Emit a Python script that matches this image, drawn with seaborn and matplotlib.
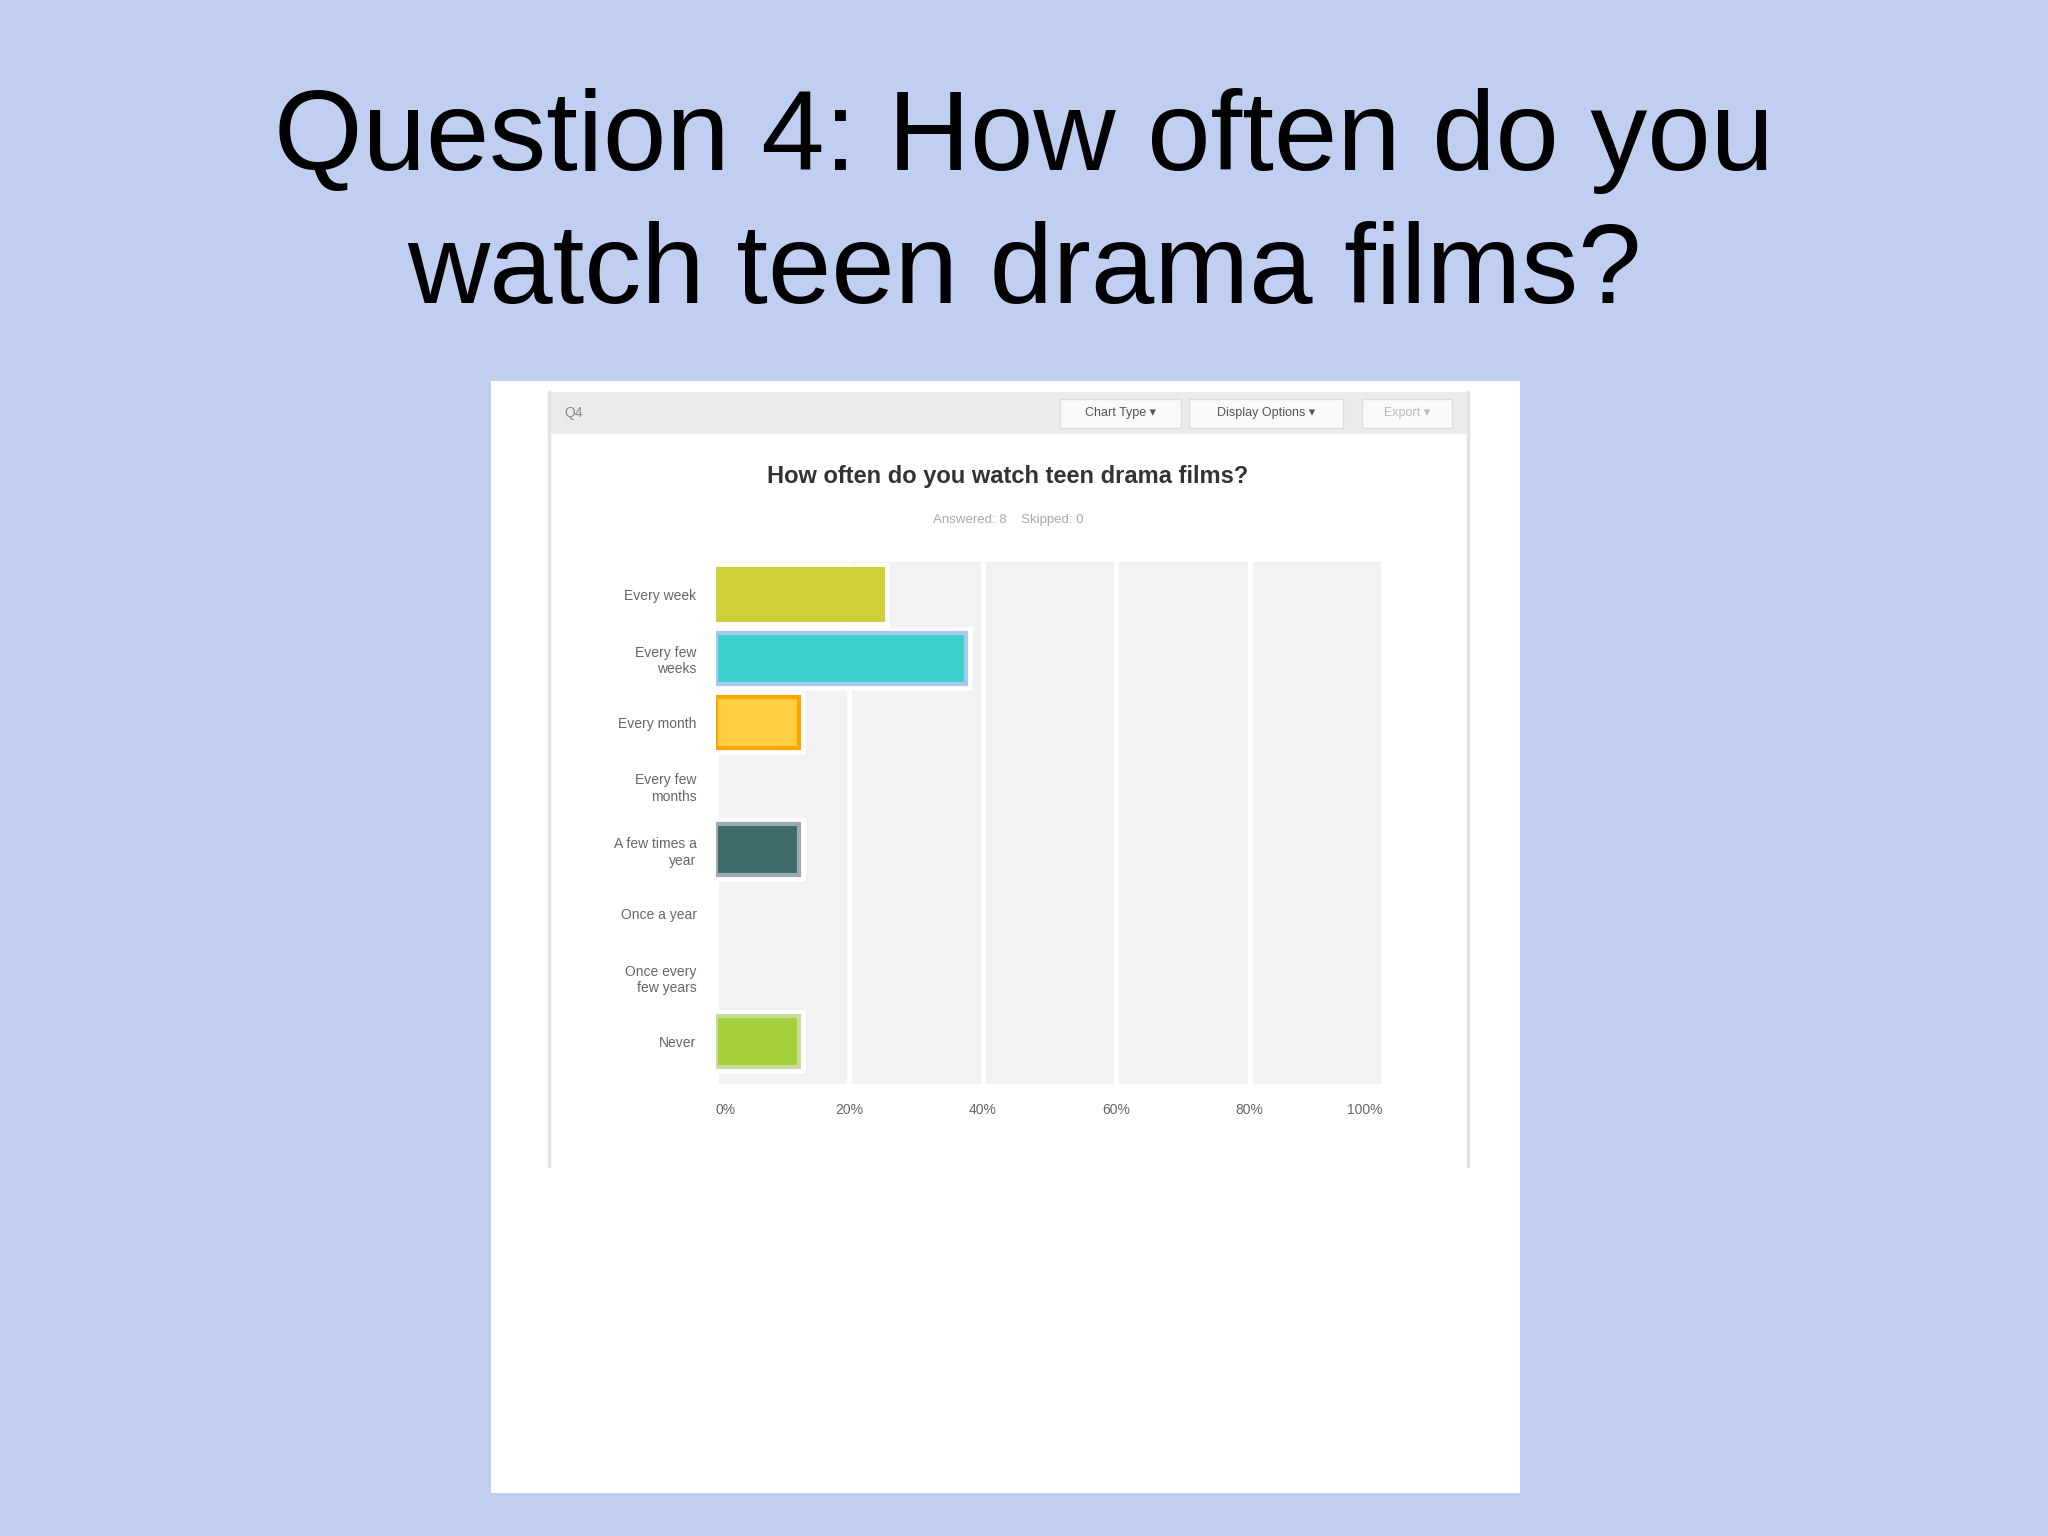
import matplotlib.pyplot as plt
import matplotlib.patheffects as pe
from matplotlib.patches import Rectangle
from matplotlib.lines import Line2D
import pandas as pd
import seaborn as sns

# survey answers and share of respondents (%)
answers = ['Every week', 'Every few weeks', 'Every month', 'Every few months',
           'A few times a year', 'Once a year', 'Once every few years', 'Never']
answer_labels = ['Every week', 'Every few\nweeks', 'Every month', 'Every few\nmonths',
                 'A few times a\nyear', 'Once a year', 'Once every\nfew years', 'Never']
percent = [25, 37.5, 12.5, 0, 12.5, 0, 0, 12.5]
bar_colors = ['#CFCF3A', '#3CD0CC', '#FFCF42', '#8FBC8F', '#3E6B6B', '#999999', '#999999', '#A4D03A']
edge_colors = ['#CFCF3A', '#A8C8F0', '#FFA500', '#8FBC8F', '#A0A8B0', '#999999', '#999999', '#C8DCA0']
x_ticks = [0, 20, 40, 60, 80, 100]
x_tick_labels = ['0%', '20%', '40%', '60%', '80%', '100%']

slide_title = ['Question 4: How often do you', 'watch teen drama films?']
chart_title = 'How often do you watch teen drama films?'
chart_subtitle = 'Answered: 8    Skipped: 0'

W, H = 2048, 1536


def box(x0, y0, x1, y1):
    # pixel box (top-left origin) -> figure fraction [left, bottom, width, height]
    return [x0 / W, 1 - y1 / H, (x1 - x0) / W, (y1 - y0) / H]


def rect(fig, x0, y0, x1, y1, **kw):
    l, b, w, h = box(x0, y0, x1, y1)
    fig.add_artist(Rectangle((l, b), w, h, transform=fig.transFigure, **kw))


sns.set_theme(style='white')
plt.rcParams['font.family'] = ['Liberation Sans', 'DejaVu Sans']

fig = plt.figure(figsize=(20.48, 15.36), dpi=100)
fig.patch.set_facecolor('#C0CEF2')

# slide title
fig.text(0.5, 1 - 170 / H, slide_title[0], ha='center', va='baseline', fontsize=82, color='black')
fig.text(0.5, 1 - 303 / H, slide_title[1], ha='center', va='baseline', fontsize=82, color='black')

# white screenshot panel
rect(fig, 491, 381, 1520, 1493, facecolor='white', edgecolor='none', zorder=0)

# survey widget frame and header
rect(fig, 549, 392, 1469, 434, facecolor='#EBEBEB', edgecolor='none', zorder=1)
for x in (549, 1468):
    fig.add_artist(Line2D([x / W, x / W], [1 - 392 / H, 1 - 1166 / H], transform=fig.transFigure,
                          color='#E2E2E2', lw=2.5, zorder=1))
fig.text(564 / W, 1 - 413 / H, 'Q4', ha='left', va='center', fontsize=10, color='#888888')
buttons = [('Chart Type \u25be', 1060, 1181, '#555555'),
           ('Display Options \u25be', 1189, 1343, '#555555'),
           ('Export \u25be', 1362, 1452, '#BBBBBB')]
for label, x0, x1, col in buttons:
    rect(fig, x0, 399, x1, 428, facecolor='#FAFAFA', edgecolor='#DDDDDD', lw=1, zorder=2)
    fig.text((x0 + x1) / 2 / W, 1 - 413 / H, label, ha='center', va='center', fontsize=9, color=col,
             zorder=3)

fig.text(1008 / W, 1 - 477 / H, chart_title, ha='center', va='center', fontsize=17,
         weight='bold', color='#333333')
fig.text(1008 / W, 1 - 520 / H, chart_subtitle, ha='center', va='center', fontsize=9.5,
         color='#AAAAAA')

# bar chart
ax = fig.add_axes(box(716, 562, 1383, 1084))
ax.set_facecolor('#F2F2F4')
df = pd.DataFrame({'answer': answers, 'percent': percent})
sns.barplot(data=df, x='percent', y='answer', hue='answer', order=answers, hue_order=answers,
            palette=dict(zip(answers, bar_colors)), saturation=1, legend=False, width=0.8,
            ax=ax, zorder=3)

for bar in ax.patches:
    i = int(round(bar.get_y() + bar.get_height() / 2))
    if percent[i] == 0:
        bar.set_visible(False)
        continue
    bar.set_edgecolor(edge_colors[i])
    bar.set_linewidth(3)
    bar.set_path_effects([pe.Stroke(linewidth=9, foreground='white'), pe.Normal()])

ax.set_xlim(0, 100)
ax.set_ylim(7.67, -0.51)
ax.set_xticks(x_ticks)
ax.set_xticklabels(x_tick_labels)
labels = ax.get_xticklabels()
labels[0].set_ha('left')
labels[-1].set_ha('right')
ax.set_yticks(range(len(answers)))
ax.set_yticklabels(answer_labels, linespacing=1.2)
ax.xaxis.grid(True, color='white', lw=3.5)
ax.yaxis.grid(False)
ax.set_axisbelow(True)
ax.tick_params(axis='x', length=0, pad=14, labelsize=10, labelcolor='#666666')
ax.tick_params(axis='y', length=0, pad=14, labelsize=10, labelcolor='#666666')
ax.set_xlabel('')
ax.set_ylabel('')
for s in ax.spines.values():
    s.set_visible(False)

fig.savefig('out.png', dpi=100, facecolor=fig.get_facecolor())
